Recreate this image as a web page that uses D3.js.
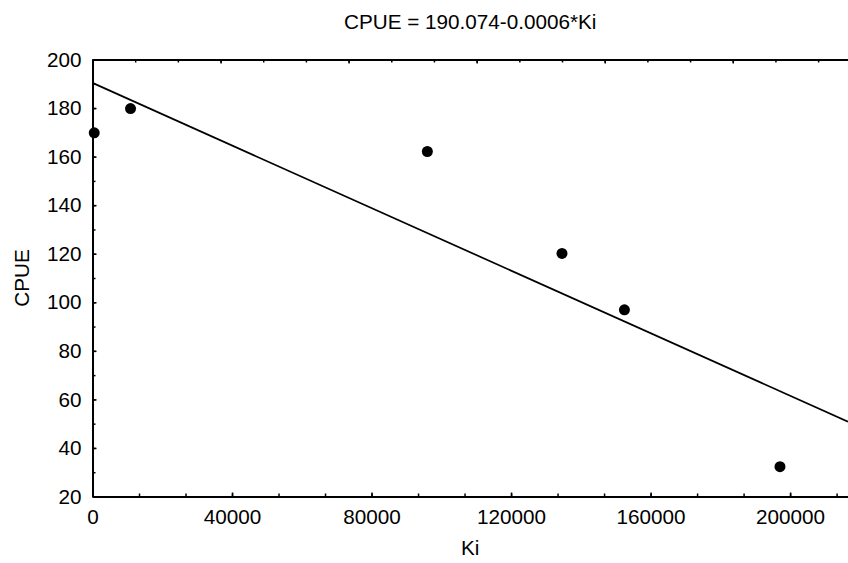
<!DOCTYPE html>
<html>
<head>
<meta charset="utf-8">
<script src="https://cdn.jsdelivr.net/npm/d3@7"></script>
<style>
  body { margin: 0; background: #fff; }
  text { font-family: "Liberation Sans", Arial, sans-serif; fill: #000; }
</style>
</head>
<body>
<div id="main"></div>
<script>
// observed points
const ki = [500, 10900, 96000, 134600, 152500, 197100];
const cpue = [169.8, 179.8, 162.1, 120.1, 96.9, 32.3];

const xTicks = [0, 40000, 80000, 120000, 160000, 200000];
const yTicks = [20, 40, 60, 80, 100, 120, 140, 160, 180, 200];
const titleText = 'CPUE = 190.074-0.0006*Ki';

const width = 848, height = 563;
const margin = { top: 59.5, bottom: 66.5, left: 92.5, right: 0 };
const markWidth = width - margin.left - margin.right;
const markHeight = height - margin.top - margin.bottom;
const fontSize = '20.7px';

const svg = d3.select('#main').append('svg').attr('width', width).attr('height', height);

const xScale = d3.scaleLinear().domain([0, 216600]).range([0, markWidth]);
// top frame carries its own tick spacing in the original
const xTopScale = d3.scaleLinear().domain([0, 236000]).range([0, markWidth]);
const yScale = d3.scaleLinear().domain([20, 200]).range([markHeight, 0]);

const g = svg.append('g').attr('transform', `translate(${margin.left},${margin.top})`);

g.append('clipPath').attr('id', 'plotclip')
    .append('rect').attr('x', 0).attr('y', 0).attr('width', markWidth).attr('height', markHeight);

// least squares fit
const mx = d3.mean(ki), my = d3.mean(cpue);
const slope = d3.sum(ki, (x, i) => (x - mx) * (cpue[i] - my)) / d3.sum(ki, x => (x - mx) * (x - mx));
const intercept = my - slope * mx;
const fitX = xScale.domain();

g.append('line')
    .attr('clip-path', 'url(#plotclip)')
    .attr('x1', xScale(fitX[0])).attr('y1', yScale(intercept + slope * fitX[0]))
    .attr('x2', xScale(fitX[1])).attr('y2', yScale(intercept + slope * fitX[1]))
    .attr('stroke', '#000').attr('stroke-width', 1.7);

g.selectAll('.pt')
    .data(ki)
    .enter()
        .append('circle')
            .attr('class', 'pt')
            .attr('cx', d => xScale(d))
            .attr('cy', (d, i) => yScale(cpue[i]))
            .attr('r', 5.5)
            .style('fill', '#000');

function styleAxis(sel) {
    sel.selectAll('path').attr('stroke', '#000').attr('stroke-width', 2);
    sel.selectAll('line').attr('stroke', '#000').attr('stroke-width', 1.5);
    sel.selectAll('text').style('font-size', fontSize).attr('fill', '#000');
}

// minor ticks
const xMinor = d3.range(0, 216600, 40000 / 3);
const xTopMinor = d3.range(0, 236000, 40000 / 3);
const yMinor = d3.range(20, 201, 10);

g.append('g')
    .attr('transform', `translate(0,${markHeight})`)
    .call(d3.axisBottom(xScale).tickValues(xMinor).tickFormat('').tickSize(-3).tickSizeOuter(0))
    .call(styleAxis);
g.append('g')
    .attr('transform', `translate(0,${markHeight})`)
    .call(d3.axisBottom(xScale).tickValues(xTicks).tickFormat(d3.format('d')).tickSize(-4).tickSizeOuter(0).tickPadding(13))
    .call(styleAxis);

g.append('g')
    .call(d3.axisTop(xTopScale).tickValues(xTopMinor).tickFormat('').tickSize(-3).tickSizeOuter(0))
    .call(styleAxis);
g.append('g')
    .call(d3.axisTop(xTopScale).tickValues(d3.range(0, 236000, 40000)).tickFormat('').tickSize(-4).tickSizeOuter(0))
    .call(styleAxis);

g.append('g')
    .call(d3.axisLeft(yScale).tickValues(yMinor).tickFormat('').tickSize(-3).tickSizeOuter(0))
    .call(styleAxis);
g.append('g')
    .call(d3.axisLeft(yScale).tickValues(yTicks).tickFormat(d3.format('d')).tickSize(-4).tickSizeOuter(0).tickPadding(11))
    .call(styleAxis);

svg.append('text')
    .attr('x', margin.left + markWidth / 2)
    .attr('y', 29)
    .style('font-size', fontSize)
    .style('text-anchor', 'middle')
    .text(titleText);

svg.append('text')
    .attr('x', margin.left + markWidth / 2)
    .attr('y', 555)
    .style('font-size', fontSize)
    .style('text-anchor', 'middle')
    .text('Ki');

svg.append('text')
    .attr('x', 29)
    .attr('y', margin.top + markHeight / 2)
    .style('font-size', fontSize)
    .style('text-anchor', 'middle')
    .attr('transform', `rotate(-90,29,${margin.top + markHeight / 2})`)
    .text('CPUE');
</script>
</body>
</html>
